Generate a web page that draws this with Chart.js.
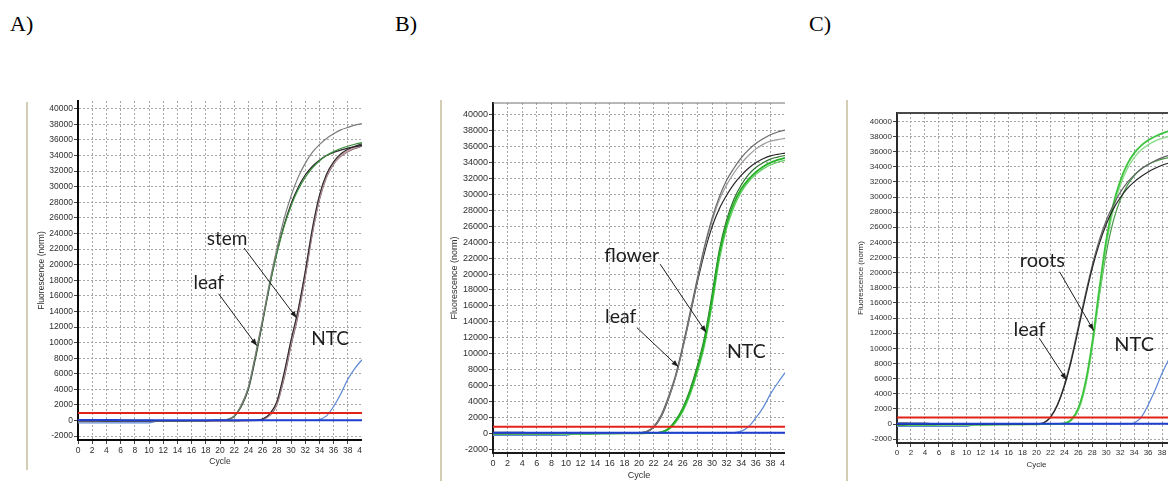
<!DOCTYPE html>
<html>
<head>
<meta charset="utf-8">
<title>qPCR amplification curves</title>
<script src="https://cdn.jsdelivr.net/npm/chart.js@4.4.1/dist/chart.umd.min.js"></script>
<style>
  html, body { margin: 0; padding: 0; background: #fff; overflow: hidden; width: 1168px; height: 481px; }
  .panel-label { position: absolute; font-family: "Liberation Serif", "Times New Roman", serif; font-size: 22px; line-height: 1; color: #000; }
  .frame { position: absolute; width: 2px; background: #d3cdb4; }
  canvas { position: absolute; display: block; }
</style>
</head>
<body>
<div class="panel-label" style="left:10px;top:13px">A)</div>
<div class="panel-label" style="left:395px;top:13px">B)</div>
<div class="panel-label" style="left:809px;top:13px">C)</div>

<div class="frame" style="left:26px;top:102px;height:368px"></div>
<div class="frame" style="left:440px;top:100px;height:381px"></div>
<div class="frame" style="left:846px;top:100px;height:381px"></div>

<canvas id="chartA" style="left:28px;top:92px"></canvas>
<canvas id="chartB" style="left:442px;top:95px"></canvas>
<canvas id="chartC" style="left:848px;top:100px"></canvas>

<script>
// ---- shared axes ----
const cycles = [0,1,2,3,4,5,6,7,8,9,10,11,12,13,14,15,16,17,18,19,20,21,22,23,24,25,26,27,28,29,30,31,32,33,34,35,36,37,38,39,40];
const xTickValues = [0,2,4,6,8,10,12,14,16,18,20,22,24,26,28,30,32,34,36,38,40];
const yTickValues = [-2000,0,2000,4000,6000,8000,10000,12000,14000,16000,18000,20000,22000,24000,26000,28000,30000,32000,34000,36000,38000,40000];

// ---- A) leaf vs stem ----
const aLeafGray  = [-40,-40,-35,-35,-30,-30,-30,-25,-25,-20,-20,-20,-15,-15,-10,-10,-10,-5,0,10,40,150,600,2000,4300,8500,13000,17800,22000,25800,28800,31200,33000,34400,35400,36200,36800,37300,37600,37900,38100];
const aLeafGreen = [120,120,115,115,110,60,50,40,30,20,10,0,-10,-10,-10,-5,-5,0,0,10,30,120,550,1900,4200,8300,12800,17400,21400,24800,27500,29600,31200,32400,33300,34000,34500,34900,35200,35450,35650];
const aLeafDark  = [-60,-60,-55,-55,-50,-50,-45,-45,-40,-40,-35,-30,-30,-25,-20,-20,-15,-10,-5,5,25,100,500,1800,4000,8000,12600,17300,21500,25000,27800,29900,31500,32600,33400,34000,34400,34700,34950,35150,35300];
const aStemDark  = [-80,-80,-75,-75,-70,-70,-65,-60,-60,-55,-50,-50,-45,-40,-40,-35,-30,-30,-25,-20,-20,-15,-10,0,10,30,180,850,2400,6000,10300,14200,19100,24600,28900,31600,33200,34200,34800,35200,35500];
const aStemPink  = [-100,-100,-95,-90,-90,-85,-80,-80,-75,-70,-65,-60,-55,-50,-45,-40,-35,-30,-25,-20,-15,-10,-5,0,5,20,150,750,2200,5700,10000,13900,18800,24300,28600,31400,33000,34000,34600,35000,35300];
const aStemBrown = [-120,-115,-110,-110,-105,-100,-95,-90,-85,-80,-75,-70,-65,-60,-55,-50,-45,-40,-35,-30,-25,-20,-15,-10,0,10,110,650,2000,5300,9600,13500,18400,23900,28300,31200,32900,33900,34500,34900,35200];
const aNtcRise   = [-300,-300,-300,-300,-300,-300,-300,-300,-300,-300,-300,-110,-100,-90,-80,-70,-60,-50,-40,-30,-25,-20,-15,-10,-5,0,0,5,5,10,10,10,15,20,120,600,1800,3400,5300,6700,7800];
const aNtcFlat   = [60,60,60,55,55,55,50,50,50,50,45,45,45,45,40,40,40,40,40,40,40,40,40,40,40,40,40,40,40,40,40,40,40,40,40,40,40,40,40,40,40];
const aThreshold = 950;

// ---- B) leaf vs flower ----
const bLeafGray     = [-50,-50,-45,-45,-40,-40,-35,-35,-30,-30,-25,-25,-20,-20,-15,-15,-10,-5,0,10,50,200,800,2200,4500,7300,11000,15200,19500,23600,27000,29700,31800,33300,34600,35600,36400,37000,37500,37850,38100];
const bLeafLight    = [-80,-80,-75,-75,-70,-65,-60,-60,-55,-50,-45,-40,-35,-30,-25,-20,-15,-10,-5,5,40,170,720,2100,4300,7100,10800,15000,19300,23300,26600,29300,31200,32700,33900,34900,35700,36300,36700,36900,37050];
const bLeafDark     = [100,100,95,95,90,50,40,30,20,10,0,-10,-10,-10,-5,-5,0,0,5,10,30,150,700,2000,4200,7000,10700,14800,19000,22800,25900,28200,29900,31300,32400,33300,34000,34500,34850,35050,35200];
const bFlowerBright = [-100,-100,-95,-95,-90,-90,-85,-85,-80,-75,-70,-65,-60,-55,-50,-45,-40,-35,-30,-25,-20,-10,0,100,500,1500,3000,5200,8100,11700,16800,22500,26300,28900,30700,31900,32800,33500,34000,34350,34600];
const bFlowerLight  = [-150,-150,-145,-140,-140,-135,-130,-125,-120,-115,-110,-100,-95,-90,-80,-75,-70,-60,-50,-40,-30,-20,-10,60,400,1300,2700,4800,7600,11100,16000,21700,25700,28400,30300,31600,32500,33200,33700,34050,34300];
const bFlowerDark   = [-60,-60,-55,-55,-50,-50,-45,-45,-40,-40,-35,-35,-30,-30,-25,-25,-20,-15,-10,-5,0,-5,5,120,560,1600,3200,5500,8500,12200,17400,23000,26800,29400,31200,32500,33400,34000,34450,34700,34900];
const bNtcRise      = [-300,-300,-300,-300,-300,-300,-300,-300,-300,-300,-300,-110,-100,-90,-80,-70,-60,-50,-40,-30,-25,-20,-15,-10,-5,0,0,5,5,10,10,10,20,60,250,800,1900,3200,4900,6300,7600];
const bNtcFlat      = [50,50,50,50,45,45,45,45,40,40,40,40,40,40,40,40,35,35,35,35,35,35,35,35,35,35,35,35,35,35,35,35,35,35,35,35,35,35,35,35,35];
const bThreshold = 800;

// ---- C) leaf vs roots ----
const cLeafDark    = [-60,-60,-55,-55,-50,-50,-45,-45,-40,-40,-35,-30,-30,-25,-20,-20,-15,-10,-5,5,30,150,900,2500,5000,8400,12500,16700,20600,23800,26400,28400,29900,31100,32000,32700,33300,33800,34200,34500,34700];
const cLeafGray    = [150,150,145,145,140,60,50,40,30,20,10,0,-10,-10,-5,-5,0,0,5,10,35,170,950,2600,5200,8700,12900,17100,21000,24300,26900,28900,30600,31900,32900,33700,34300,34800,35200,35500,35700];
const cRootsBright = [-100,-100,-95,-95,-90,-90,-85,-85,-80,-75,-70,-65,-60,-55,-50,-45,-40,-35,-30,-25,-20,-10,0,20,100,600,2100,5400,10800,17800,24300,29000,32100,34300,35800,36800,37500,38000,38400,38700,38900];
const cRootsLight  = [-150,-150,-145,-140,-140,-135,-130,-125,-120,-115,-110,-100,-95,-90,-80,-75,-70,-60,-50,-40,-30,-20,-10,10,70,480,1800,4900,10100,17000,23500,28300,31500,33700,35200,36200,36900,37400,37750,38000,38150];
const cRootsMid    = [-60,-60,-55,-55,-50,-50,-45,-45,-40,-40,-35,-35,-30,-30,-25,-25,-20,-15,-10,-5,0,-5,5,15,90,550,2000,5200,10400,16900,22600,26800,29600,31500,32800,33700,34300,34700,35000,35200,35350];
const cNtcRise     = [-300,-300,-300,-300,-300,-300,-300,-300,-300,-300,-300,-110,-100,-90,-80,-70,-60,-50,-40,-30,-25,-20,-15,-10,-5,0,0,5,5,10,10,10,15,30,150,870,2500,4500,6700,8600,10300];
const cNtcFlat     = [50,50,50,50,45,45,45,45,40,40,40,40,40,40,40,40,35,35,35,35,35,35,35,35,35,35,35,35,35,35,35,35,35,35,35,35,35,35,35,35,35];
const cThreshold = 870;

// ---- annotation drawing (labels, arrows, frame top) ----
const notesPlugin = {
  id: 'notes',
  afterDatasetsDraw(chart, args, opts) {
    const { ctx, chartArea, scales: { x, y } } = chart;
    ctx.save();
    if (opts.topBorder) {
      ctx.strokeStyle = opts.topBorder.color;
      ctx.lineWidth = opts.topBorder.width;
      ctx.beginPath();
      ctx.moveTo(chartArea.left, chartArea.top);
      ctx.lineTo(chartArea.right, chartArea.top);
      ctx.stroke();
    }
    ctx.fillStyle = '#1e1e1e';
    ctx.strokeStyle = '#1e1e1e';
    ctx.font = opts.size + 'px Lato, "Open Sans", sans-serif';
    ctx.textAlign = 'center';
    ctx.textBaseline = 'alphabetic';
    for (const n of opts.labels) {
      ctx.fillText(n.text, x.getPixelForValue(n.x), y.getPixelForValue(n.y));
    }
    ctx.lineWidth = 1;
    for (const a of opts.arrows) {
      const x1 = x.getPixelForValue(a.x1), y1 = y.getPixelForValue(a.y1);
      const x2 = x.getPixelForValue(a.x2), y2 = y.getPixelForValue(a.y2);
      ctx.beginPath();
      ctx.moveTo(x1, y1);
      ctx.lineTo(x2, y2);
      ctx.stroke();
      const ang = Math.atan2(y2 - y1, x2 - x1);
      const len = 7, half = 2.6;
      ctx.beginPath();
      ctx.moveTo(x2, y2);
      ctx.lineTo(x2 - len * Math.cos(ang) + half * Math.sin(ang), y2 - len * Math.sin(ang) - half * Math.cos(ang));
      ctx.lineTo(x2 - len * Math.cos(ang) - half * Math.sin(ang), y2 - len * Math.sin(ang) + half * Math.cos(ang));
      ctx.closePath();
      ctx.fill();
    }
    ctx.restore();
  }
};

function buildPanel(p) {
  const canvas = document.getElementById(p.id);
  canvas.width = p.w;
  canvas.height = p.h;
  canvas.style.width = p.w + 'px';
  canvas.style.height = p.h + 'px';

  const toPoints = vals => cycles.map((c, i) => ({ x: c, y: vals[i] }));
  const datasets = [
    { data: [{ x: 0, y: p.threshold }, { x: 40, y: p.threshold }], borderColor: '#e2231a', borderWidth: 2 },
    { data: toPoints(p.flat), borderColor: '#1f3fcf', borderWidth: 2 }
  ];
  for (const s of p.series) {
    datasets.push({ data: toPoints(s.values), borderColor: s.color, borderWidth: s.width });
  }
  datasets.forEach(d => {
    d.pointRadius = 0;
    d.fill = false;
    d.cubicInterpolationMode = 'monotone';
  });

  const tickFont = { family: '"Liberation Sans", Arial, sans-serif', size: p.font };
  const gridCommon = { color: '#a6a6a6', lineWidth: 1, tickLength: 4, tickColor: '#444', tickWidth: 1 };
  const border = { display: true, color: p.axisColor, width: 2, dash: [2, 2] };

  return new Chart(canvas, {
    type: 'line',
    data: { datasets },
    plugins: [notesPlugin],
    options: {
      responsive: false,
      animation: false,
      events: [],
      layout: { padding: { top: p.padTop, left: 0, right: 0, bottom: 0 } },
      plugins: {
        legend: { display: false },
        tooltip: { enabled: false },
        notes: { labels: p.labels, arrows: p.arrows, size: p.noteSize, topBorder: p.topBorder }
      },
      scales: {
        x: {
          type: 'linear', min: 0, max: 40,
          afterBuildTicks: s => { s.ticks = xTickValues.map(v => ({ value: v })); },
          afterFit: s => { s.height = p.xAxisH; s.paddingLeft = 0; s.paddingRight = 0; },
          ticks: { callback: v => String(v), autoSkip: false, maxRotation: 0, minRotation: 0, font: tickFont, color: '#2e2e2e', padding: p.xTickPad },
          grid: gridCommon,
          border: border,
          title: { display: true, text: 'Cycle', font: tickFont, color: '#2e2e2e', padding: { top: 0, bottom: p.xTitlePad } }
        },
        y: {
          type: 'linear', min: p.yMin, max: p.yMax,
          afterBuildTicks: s => { s.ticks = yTickValues.map(v => ({ value: v })); },
          afterFit: s => { s.width = p.yAxisW; s.paddingTop = 0; s.paddingBottom = 0; },
          ticks: { callback: v => String(v), autoSkip: false, font: tickFont, color: '#2e2e2e', padding: 1 },
          grid: gridCommon,
          border: border,
          title: { display: true, text: 'Fluorescence (norm)', font: tickFont, color: '#2e2e2e', padding: { top: p.yTitlePad, bottom: 0 } }
        }
      }
    }
  });
}

buildPanel({
  id: 'chartA', w: 334, h: 380, yAxisW: 50, padTop: 9, xAxisH: 32,
  yMin: -2500, yMax: 41000, font: 8.5, xTickPad: 2, xTitlePad: 4.9, yTitlePad: 8.9,
  axisColor: '#0a0a0a', topBorder: null, threshold: aThreshold, flat: aNtcFlat, noteSize: 19,
  series: [
    { values: aLeafGray, color: '#7c7c7c', width: 1.2 },
    { values: aLeafGreen, color: '#3d8d3d', width: 1.2 },
    { values: aLeafDark, color: '#262626', width: 1.2 },
    { values: aStemDark, color: '#303030', width: 1.2 },
    { values: aStemPink, color: '#c89ca4', width: 1.8 },
    { values: aStemBrown, color: '#54464a', width: 1.2 },
    { values: aNtcRise, color: '#5b87d6', width: 1.2 }
  ],
  labels: [
    { text: 'stem', x: 21.0, y: 22550 },
    { text: 'leaf', x: 18.4, y: 16870 },
    { text: 'NTC', x: 35.5, y: 9720 }
  ],
  arrows: [
    { x1: 23.4, y1: 22130, x2: 30.8, y2: 13140 },
    { x1: 19.8, y1: 16270, x2: 25.2, y2: 9590 }
  ]
});

buildPanel({
  id: 'chartB', w: 343, h: 386, yAxisW: 51, padTop: 8, xAxisH: 28,
  yMin: -2500, yMax: 41500, font: 9, xTickPad: 1, xTitlePad: 0, yTitlePad: 7.6,
  axisColor: '#1a1a1a', topBorder: { color: '#707070', width: 1 }, threshold: bThreshold, flat: bNtcFlat, noteSize: 19.5,
  series: [
    { values: bLeafGray, color: '#6a6a6a', width: 1.2 },
    { values: bLeafLight, color: '#999999', width: 1.2 },
    { values: bLeafDark, color: '#282828', width: 1.2 },
    { values: bFlowerBright, color: '#25b325', width: 1.8 },
    { values: bFlowerLight, color: '#5ccc5c', width: 1.2 },
    { values: bFlowerDark, color: '#2f6f2f', width: 1.2 },
    { values: bNtcRise, color: '#5b87d6', width: 1.2 }
  ],
  labels: [
    { text: 'flower', x: 19.0, y: 21570 },
    { text: 'leaf', x: 17.5, y: 13825 },
    { text: 'NTC', x: 34.7, y: 9500 }
  ],
  arrows: [
    { x1: 22.9, y1: 21240, x2: 29.2, y2: 12640 },
    { x1: 19.7, y1: 13270, x2: 25.4, y2: 8330 }
  ]
});

buildPanel({
  id: 'chartC', w: 328, h: 381, yAxisW: 49, padTop: 13, xAxisH: 38,
  yMin: -2500, yMax: 41100, font: 8, xTickPad: 1, xTitlePad: 11.2, yTitlePad: 7.9,
  axisColor: '#2a2a2a', topBorder: { color: '#4a4a4a', width: 2 }, threshold: cThreshold, flat: cNtcFlat, noteSize: 20,
  series: [
    { values: cLeafDark, color: '#262626', width: 1.2 },
    { values: cLeafGray, color: '#626262', width: 1.2 },
    { values: cRootsBright, color: '#3cc43c', width: 1.8 },
    { values: cRootsLight, color: '#8edb8e', width: 1.4 },
    { values: cRootsMid, color: '#4b9b4b', width: 1.2 },
    { values: cNtcRise, color: '#5b87d6', width: 1.2 }
  ],
  labels: [
    { text: 'roots', x: 20.85, y: 20790 },
    { text: 'leaf', x: 19.0, y: 11650 },
    { text: 'NTC', x: 34.0, y: 9670 }
  ],
  arrows: [
    { x1: 23.3, y1: 20130, x2: 28.2, y2: 12350 },
    { x1: 20.4, y1: 11350, x2: 24.3, y2: 5840 }
  ]
});
</script>
</body>
</html>
